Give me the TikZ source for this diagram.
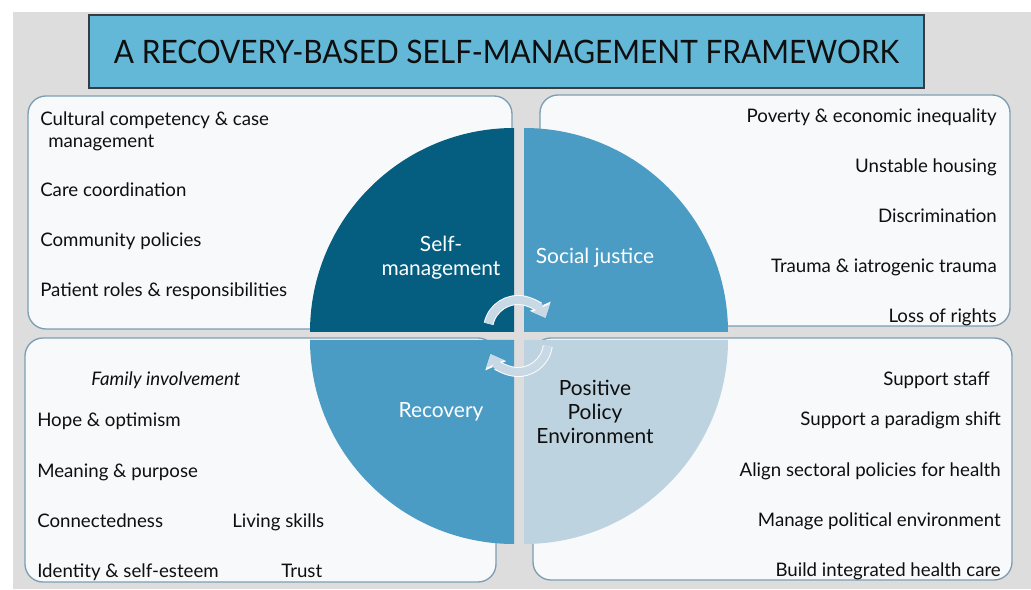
\documentclass[tikz,border=0pt]{standalone}
\usepackage{fontspec}
\setmainfont{Lato}
\usetikzlibrary{arrows.meta}

\definecolor{bggray}{RGB}{221,221,221}
\definecolor{titlefill}{RGB}{99,184,216}
\definecolor{titleedge}{RGB}{55,60,66}
\definecolor{boxfill}{RGB}{248,249,250}
\definecolor{boxedge}{RGB}{125,158,178}
\definecolor{qdark}{RGB}{5,94,128}
\definecolor{qmid}{RGB}{75,156,196}
\definecolor{qlight}{RGB}{190,211,224}
\definecolor{cyclearrow}{RGB}{200,216,228}
\definecolor{ink}{RGB}{15,15,15}

\tikzset{
  panel/.style={draw=boxedge, fill=boxfill, line width=1pt, rounded corners=13.5pt},
  item/.style={inner sep=0pt, text=ink, font=\fontsize{14}{16}\selectfont},
  litem/.style={item, anchor=base west},
  ritem/.style={item, anchor=base east},
  qlabel/.style={inner sep=0pt, align=center, font=\fontsize{15.7}{18}\selectfont},
  cycle/.style={line width=6pt, draw=cyclearrow,
    -{Triangle[width=14pt,length=8pt]}},
  cycleedge/.style={line width=7.5pt, draw=white!92!cyclearrow,
    -{Triangle[width=16.5pt,length=9.5pt]}},
}

\begin{document}
\begin{tikzpicture}[x=0.75pt,y=0.75pt]
\useasboundingbox (0,0) rectangle (1031,589);
\fill[white] (0,0) rectangle (1031,589);
\fill[bggray] (13,0) rectangle (1031,577);

% title banner
\node[draw=titleedge, line width=2pt, fill=titlefill, inner sep=0pt,
      minimum width=835*0.75pt, minimum height=73*0.75pt,
      font=\fontsize{22.4}{26}\selectfont, text=ink] (title) at (506.5,537.5)
  {\scalebox{1}[1.08]{A RECOVERY-BASED SELF-MANAGEMENT FRAMEWORK}};

% four panels
\draw[panel] (28,260) rectangle (512,493);
\draw[panel] (540,263) rectangle (1010,494);
\draw[panel] (25,7) rectangle (496,251);
\draw[panel] (533,9) rectangle (1012,251);

% quartered disc
\fill[qdark]  (514,257) -- ++(-204,0) arc[start angle=180,end angle=90,radius=204] -- cycle;
\fill[qmid]   (524,257) -- ++(0,204) arc[start angle=90,end angle=0,radius=204] -- cycle;
\fill[qmid]   (514,249) -- ++(-204,0) arc[start angle=180,end angle=270,radius=204] -- cycle;
\fill[qlight] (524,249) -- ++(204,0) arc[start angle=0,end angle=-90,radius=204] -- cycle;

% cycle arrows at the centre
\coordinate (ctop) at (518,259);
\coordinate (cbot) at (518,247);
\draw[cycleedge] ([shift={(168:30)}]ctop) arc[start angle=168,end angle=24,radius=30];
\draw[cycle]     ([shift={(168:30)}]ctop) arc[start angle=168,end angle=24,radius=30];
\draw[cycleedge] ([shift={(-8:30)}]cbot) arc[start angle=-8,end angle=-156,radius=30];
\draw[cycle]     ([shift={(-8:30)}]cbot) arc[start angle=-8,end angle=-156,radius=30];

% quadrant labels
\node[qlabel, text=white] (selfm) at (441,331) {Self-\\management};
\node[qlabel, text=white] (socj)  at (595,331) {Social justice};
\node[qlabel, text=white] (recov) at (441,177) {Recovery};
\node[qlabel, text=ink]   (ppe)   at (595,177) {Positive\\Policy\\Environment};

% self-management items
\node[litem] (sm1)  at (40,463) {Cultural competency \& case};
\node[litem] (sm1b) at (48,441) {management};
\node[litem] (sm2)  at (40,392) {Care coordination};
\node[litem] (sm3)  at (40,342) {Community policies};
\node[litem] (sm4)  at (40,292) {Patient roles \& responsibilities};

% social justice items
\node[ritem] (sj1) at (997,466) {Poverty \& economic inequality};
\node[ritem] (sj2) at (997,416) {Unstable housing};
\node[ritem] (sj3) at (997,366) {Discrimination};
\node[ritem] (sj4) at (997,316) {Trauma \& iatrogenic trauma};
\node[ritem] (sj5) at (997,266) {Loss of rights};

% recovery items
\node[litem, font=\fontsize{14}{16}\selectfont\itshape] (rc0) at (91,203) {Family involvement};
\node[litem] (rc1) at (37,162) {Hope \& optimism};
\node[litem] (rc2) at (37,112) {Meaning \& purpose};
\node[litem] (rc3) at (37,62)  {Connectedness};
\node[litem] (rc4) at (232,62) {Living skills};
\node[litem] (rc5) at (37,12)  {Identity \& self-esteem};
\node[litem] (rc6) at (281,12) {Trust};

% policy environment items
\node[ritem] (pp1) at (990,203)  {Support staff};
\node[ritem] (pp2) at (1001,163) {Support a paradigm shift};
\node[ritem] (pp3) at (1001,113) {Align sectoral policies for health};
\node[ritem] (pp4) at (1001,63)  {Manage political environment};
\node[ritem] (pp5) at (1001,13)  {Build integrated health care};
\end{tikzpicture}
\end{document}
